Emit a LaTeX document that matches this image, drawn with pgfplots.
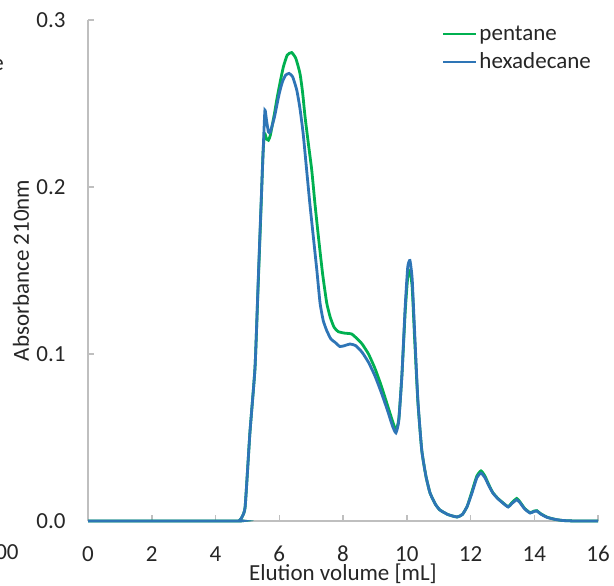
\documentclass[border=0pt]{standalone}
\usepackage{fontspec}
\setmainfont{Carlito}
\usepackage{pgfplots}
\pgfplotsset{compat=1.18}
\definecolor{cgreen}{HTML}{00B050}
\definecolor{cblue}{HTML}{2E75B6}
\definecolor{caxis}{HTML}{BFBFBF}
\definecolor{ctext}{HTML}{262626}
\newcommand{\ff}{\fontsize{11.5}{13.8}\selectfont}
\begin{document}
\begin{tikzpicture}
\begin{axis}[
  at={(44pt,32pt)}, anchor=south west,
  scale only axis, width=255pt, height=250.5pt,
  xmin=0, xmax=16, ymin=0, ymax=0.3,
  axis x line=bottom, axis y line=left,
  axis line style={-, draw=caxis, line width=0.75pt},
  xtick={0,2,...,16}, ytick={0,0.1,0.2,0.3},
  tick align=inside, major tick length=3pt,
  tick style={draw=caxis, line width=0.75pt},
  /pgf/number format/assume math mode=true,
  xticklabel style={anchor=base, inner sep=0pt, yshift=-20pt, font=\ff, text=ctext},
  yticklabel style={/pgf/number format/fixed, /pgf/number format/fixed zerofill, /pgf/number format/precision=1, anchor=east, inner sep=0pt, xshift=-11pt, font=\ff, text=ctext},
  xlabel={Elution volume [mL]},
  ylabel={Absorbance 210nm},
  xlabel style={at={(axis description cs:0.5,0)}, anchor=base, inner sep=0pt, yshift=-29.5pt, font=\ff, text=ctext},
  ylabel style={at={(axis description cs:-0.1314,0.5)}, anchor=center, inner sep=0pt, font=\ff, text=ctext},
  clip=false,
  legend style={at={(axis description cs:0.6935,1)}, anchor=north west, draw=none, fill=none,
     inner sep=0pt, outer sep=0pt, font=\ff, text=ctext, row sep=0pt,
     nodes={inner sep=1pt, text height=9pt, text depth=3pt},
     /tikz/every even column/.append style={column sep=0pt}},
  legend cell align=left,
  legend image code/.code={\draw[#1] (0pt,0pt) -- (16.5pt,0pt);},
]
\addplot[cgreen, line width=1.4pt, smooth, tension=0.3] coordinates {
(0,0) (4.6,0) (4.75,0.0003) (4.82,0.002) (4.93,0.0086) (5.08,0.053) (5.24,0.092)
(5.34,0.142) (5.42,0.183) (5.49,0.220) (5.54,0.232)
(5.60,0.229) (5.66,0.228) (5.72,0.231) (5.85,0.244) (5.92,0.252) (6.03,0.263)
(6.13,0.272) (6.25,0.279) (6.39,0.2805) (6.52,0.277) (6.65,0.268) (6.73,0.257)
(6.81,0.242) (6.92,0.225) (7.02,0.210) (7.12,0.190) (7.23,0.170) (7.36,0.148)
(7.49,0.1305) (7.6,0.122) (7.72,0.116) (7.85,0.1134) (8.05,0.1125) (8.27,0.112)
(8.45,0.109) (8.6,0.106) (8.8,0.100) (9.0,0.0915) (9.2,0.081) (9.4,0.069)
(9.55,0.060) (9.66,0.0545) (9.75,0.061) (9.85,0.088) (9.95,0.125)
(10.03,0.146) (10.1,0.150) (10.17,0.140) (10.25,0.108) (10.35,0.071) (10.47,0.0425)
(10.6,0.027) (10.73,0.0168) (10.9,0.010) (11.04,0.0066) (11.3,0.0038) (11.58,0.0024)
(11.75,0.004) (11.9,0.009) (12.05,0.018) (12.2,0.027) (12.33,0.030) (12.45,0.027)
(12.58,0.0215) (12.7,0.017) (12.85,0.0137) (13.0,0.0112) (13.18,0.0086) (13.3,0.011)
(13.45,0.0135) (13.55,0.0115) (13.7,0.0075) (13.87,0.005) (14.0,0.006) (14.08,0.0062)
(14.2,0.0044) (14.4,0.0023) (14.65,0.001) (14.9,0.0003) (15.3,0) (16,0)
};
\addlegendentry{pentane}
\addplot[cblue, line width=1.4pt, smooth, tension=0.3] coordinates {
(0,0) (4.6,0) (4.75,0.0003) (4.82,0.002) (4.93,0.0086) (5.08,0.053) (5.24,0.092)
(5.34,0.144) (5.42,0.185) (5.50,0.224) (5.55,0.246)
(5.60,0.240) (5.66,0.233) (5.72,0.233) (5.85,0.242) (6.00,0.256) (6.10,0.263)
(6.20,0.267) (6.31,0.268) (6.42,0.266) (6.55,0.258) (6.65,0.247) (6.75,0.232)
(6.86,0.210) (6.96,0.190) (7.07,0.170) (7.18,0.150) (7.28,0.1305) (7.38,0.120)
(7.49,0.114) (7.62,0.109) (7.75,0.107) (7.9,0.1045) (8.05,0.105) (8.22,0.106)
(8.4,0.105) (8.6,0.101) (8.8,0.095) (9.0,0.087) (9.2,0.077) (9.4,0.066)
(9.55,0.057) (9.66,0.0528) (9.75,0.060) (9.85,0.088) (9.95,0.128)
(10.03,0.152) (10.1,0.156) (10.17,0.145) (10.25,0.112) (10.35,0.072) (10.47,0.0425)
(10.6,0.027) (10.73,0.0168) (10.9,0.010) (11.04,0.0066) (11.3,0.0038) (11.58,0.0024)
(11.75,0.004) (11.9,0.009) (12.05,0.017) (12.2,0.026) (12.33,0.0287) (12.45,0.026)
(12.58,0.021) (12.7,0.0168) (12.85,0.0135) (13.0,0.011) (13.18,0.0084) (13.3,0.0105)
(13.45,0.0127) (13.55,0.011) (13.7,0.0072) (13.87,0.0048) (14.0,0.0058) (14.08,0.006)
(14.2,0.0042) (14.4,0.0022) (14.65,0.001) (14.9,0.0003) (15.3,0) (16,0)
};
\addlegendentry{hexadecane}
\end{axis}
\node[anchor=base west, inner sep=0pt, font=\ff, text=ctext] at (-4pt,257.5pt) {e};
\node[anchor=base east, inner sep=0pt, font=\ff, text=ctext] at (9.5pt,13pt) {100};
\pgfresetboundingbox
\useasboundingbox (0,0) rectangle (307pt,292.5pt);
\end{tikzpicture}
\end{document}
